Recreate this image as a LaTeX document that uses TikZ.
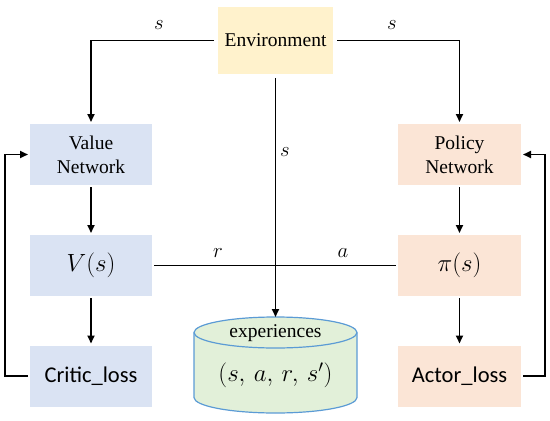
\documentclass[tikz,border=0pt]{standalone}
\usepackage{fontspec}
\setmainfont{Liberation Serif}
\newfontfamily\timesfont{Liberation Serif}
\newfontfamily\calfont{Carlito}
\usetikzlibrary{arrows.meta}
\definecolor{envfill}{HTML}{FFF2CC}
\definecolor{valfill}{HTML}{DAE3F3}
\definecolor{polfill}{HTML}{FBE5D6}
\definecolor{cylfill}{HTML}{E2F0D9}
\definecolor{cylline}{HTML}{5B9BD5}
\tikzset{
  box/.style={rectangle, inner sep=0pt, outer sep=2pt, align=center, font=\timesfont\fontsize{19.5}{24}\selectfont},
  valbox/.style={box, fill=valfill, minimum width=122pt, minimum height=61pt},
  polbox/.style={box, fill=polfill, minimum width=123pt, minimum height=61pt},
  conn/.style={line width=1.8pt},
  arr/.style={conn, -{Triangle[length=8pt,width=7pt]}},
  lbl/.style={font=\fontsize{21}{24}\selectfont, inner sep=0pt},
  big/.style={font=\fontsize{23.5}{26}\selectfont}
}
\begin{document}
\begin{tikzpicture}[x=1pt,y=-1pt]
\useasboundingbox (0,0) rectangle (550,421);
\node[box, fill=envfill, minimum width=115pt, minimum height=67pt, outer sep=4pt] (env) at (275.5,40.5) {Environment};
\node[valbox] (vnet) at (91,154.5) {Value\\Network};
\node[valbox, big] (vs) at (91,265.5) {$V(s)$};
\node[valbox, font=\calfont\fontsize{22.5}{26}\selectfont] (critic) at (91,376) {Critic\_loss};
\node[polbox] (pnet) at (459.5,154.5) {Policy\\Network};
\node[polbox, big] (pis) at (459.5,265.5) {$\pi(s)$};
\node[polbox, font=\calfont\fontsize{22.5}{26}\selectfont] (actor) at (459.5,376) {Actor\_loss};
% cylinder
\draw[fill=cylfill, draw=cylline, line width=1.2pt]
  (194,332.5) -- (194,397.5) arc[start angle=180, end angle=360, x radius=81.5, y radius=-15.5]
  -- (357,332.5) arc[start angle=0, end angle=180, x radius=81.5, y radius=-15.5] -- cycle;
\draw[draw=cylline, line width=1.2pt] (194,332.5) arc[start angle=180, end angle=360, x radius=81.5, y radius=-15.5];
\coordinate (cyltop) at (275.5,317);
\node[font=\timesfont\fontsize{19.5}{24}\selectfont, inner sep=0pt] (exp) at (275.5,333) {experiences};
\node[big, inner sep=0pt] (tuple) at (275.5,375) {$(s,\,a,\,r,\,s')$};
% connectors
\draw[arr] (env.west) -| (vnet.north);
\draw[arr] (env.east) -| (pnet.north);
\draw[arr] (env.south) -- (cyltop);
\draw[arr] (vnet) -- (vs);
\draw[arr] (vs) -- (critic);
\draw[arr] (pnet) -- (pis);
\draw[arr] (pis) -- (actor);
\draw[conn] (vs.east) -- (pis.west);
\draw[arr] (critic.west) -- ++(-23,0) |- (vnet.west);
\draw[arr] (actor.east) -- ++(22,0) |- (pnet.east);
% labels
\node[lbl] (ls1) at (159,25) {$s$};
\node[lbl] (ls2) at (392,25) {$s$};
\node[lbl] (ls3) at (285,152) {$s$};
\node[lbl] (lr) at (218,253) {$r$};
\node[lbl] (la) at (343,253) {$a$};
\end{tikzpicture}
\end{document}
